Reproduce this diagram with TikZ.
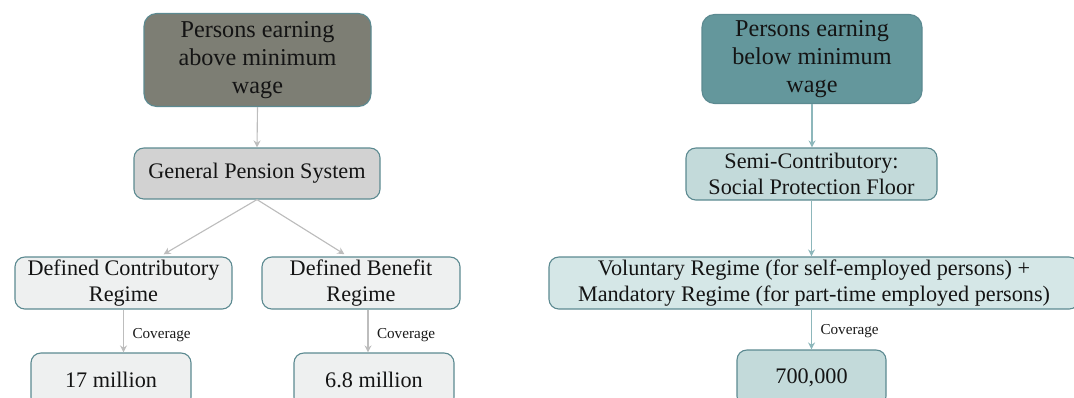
\documentclass[tikz,border=0pt]{standalone}
\usepackage{fontspec}
\setmainfont{Liberation Serif}
\usepackage{xcolor}
\usetikzlibrary{shapes,arrows,arrows.meta,positioning,calc}

\definecolor{edgeblue}{HTML}{5C8A91}
\definecolor{olivegray}{HTML}{7D7E74}
\definecolor{midgray}{HTML}{D2D2D2}
\definecolor{palegray}{HTML}{EEF0F0}
\definecolor{darkteal}{HTML}{64979C}
\definecolor{lightteal}{HTML}{C3DADA}
\definecolor{paleteal}{HTML}{D5E7E7}
\definecolor{greyarrow}{HTML}{BDBDBD}
\definecolor{tealarrow}{HTML}{8DB7BB}

\begin{document}
\begin{tikzpicture}[
    x=0.025cm, y=-0.025cm,
    scheme/.style={rectangle, rounded corners=7pt, draw=edgeblue, line width=0.8pt, align=center, text=black!92, inner sep=0pt},
    headbox/.style={scheme, rounded corners=9pt, font=\fontsize{17.2}{20}\selectfont},
    planbox/.style={scheme, font=\fontsize{15.8}{18}\selectfont},
    arrowgrey/.style={-{Stealth[length=5pt,width=5pt]}, greyarrow, line width=0.8pt},
    arrowteal/.style={-{Stealth[length=5pt,width=5pt]}, tealarrow, line width=0.8pt},
    covtext/.style={font=\fontsize{10.8}{12}\selectfont, text=black!90, inner sep=2pt}
]
    \useasboundingbox (0,0) rectangle (1074,397);
    \clip (0,0) rectangle (1074,397);

    % Above minimum wage
    \node[headbox, fill=olivegray, minimum width=227*0.025cm, minimum height=93*0.025cm] (above) at (257.5,60) {Persons earning\\above minimum\\wage};
    \node[planbox, fill=midgray, minimum width=246*0.025cm, minimum height=51*0.025cm] (gps) at (257,173.5) {General Pension System};
    \node[planbox, fill=palegray, minimum width=217*0.025cm, minimum height=52*0.025cm] (dc) at (123.5,283) {Defined Contributory\\Regime};
    \node[planbox, fill=palegray, minimum width=198*0.025cm, minimum height=52*0.025cm] (db) at (361,283) {Defined Benefit\\Regime};
    \node[planbox, fill=palegray, minimum width=160*0.025cm, minimum height=54*0.025cm] (m17) at (111,380) {17 million};
    \node[planbox, fill=palegray, minimum width=160*0.025cm, minimum height=54*0.025cm] (m68) at (374,380) {6.8 million};

    \draw[arrowgrey] (above.south) -- (gps.north);
    \draw[arrowgrey, shorten >=3pt] (gps.south) -- ($(dc.north)+(36.5,0)$);
    \draw[arrowgrey, shorten >=3pt] (gps.south) -- ($(db.north)+(-13,0)$);
    \draw[arrowgrey] (dc.south) -- node[covtext, right, xshift=4pt, yshift=-3pt] {Coverage} (dc.south |- m17.north);
    \draw[arrowgrey] ($(db.south)+(7,0)$) -- node[covtext, right, xshift=4pt, yshift=-3pt] {Coverage} ($(db.south |- m68.north)+(7,0)$);

    % Below minimum wage
    \node[headbox, fill=darkteal, minimum width=220*0.025cm, minimum height=89*0.025cm] (below) at (812,59) {Persons earning\\below minimum\\wage};
    \node[planbox, fill=lightteal, minimum width=251*0.025cm, minimum height=52*0.025cm] (semi) at (811.5,174) {Semi-Contributory:\\Social Protection Floor};
    \node[planbox, fill=paleteal, minimum width=530*0.025cm, minimum height=52*0.025cm] (vol) at (814,283) {Voluntary Regime (for self-employed persons) +\\Mandatory Regime (for part-time employed persons)};
    \node[planbox, fill=lightteal, minimum width=149*0.025cm, minimum height=56*0.025cm] (k700) at (811.5,378) {700,000};

    \draw[arrowteal] (below.south) -- (below.south |- semi.north);
    \draw[arrowteal] (semi.south) -- (semi.south |- vol.north);
    \draw[arrowteal] (vol.south -| k700.north) -- node[covtext, right, xshift=4pt, yshift=-1pt] {Coverage} (k700.north);
\end{tikzpicture}
\end{document}
